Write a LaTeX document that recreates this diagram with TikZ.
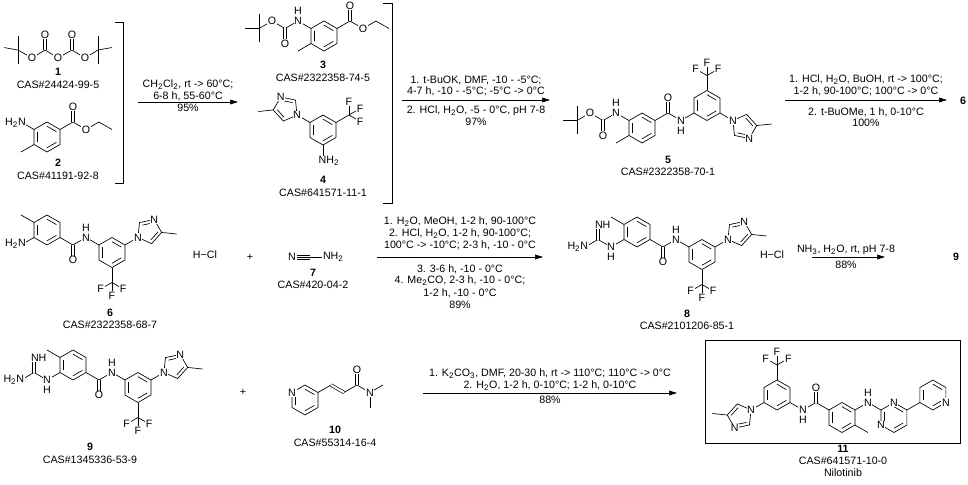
\documentclass[tikz,border=0pt]{standalone}
\usepackage{fontspec}
\setmainfont{Liberation Sans}
\usetikzlibrary{calc, arrows.meta}

\tikzset{
  every node/.style={font=\fontsize{8}{9}\selectfont, inner sep=0.6pt},
  atom/.style={fill=white, inner sep=0.5pt},
  num/.style={font=\fontsize{8}{9}\selectfont\bfseries},
  rxn/.style={-{Triangle[length=6pt,width=3.6pt]}},
  dbond/.style={double, double distance=1.5pt},
}

% benzene-type ring: name, centre
\newcommand\hexring[2]{%
  \coordinate (#1) at (#2);
  \foreach \k/\a in {0/90,1/30,2/-30,3/-90,4/-150,5/150}
    \coordinate (#1-\k) at ($(#1)+(\a:15)$);
  \draw (#1-0) -- (#1-1) -- (#1-2) -- (#1-3) -- (#1-4) -- (#1-5) -- cycle;
  \foreach \i/\j in {0/1,2/3,4/5}
    \draw ($(#1)!0.72!(#1-\i)$) -- ($(#1)!0.72!(#1-\j)$);}
% 4-methylimidazol-1-yl: name, N1, direction, sense
\newcommand\imid[4]{%
  \coordinate (#1) at ($(#2)+(#3:12.76)$);
  \foreach \k in {0,...,4}
    \coordinate (#1-\k) at ($(#1)+({#3+180+#4*72*\k}:12.76)$);
  \draw (#1-0) -- (#1-1) -- (#1-2) -- (#1-3) -- (#1-4) -- cycle;
  \foreach \i/\j in {1/2,3/4}
    \draw ($(#1)!0.7!(#1-\i)$) -- ($(#1)!0.7!(#1-\j)$);
  \draw (#1-3) -- ($(#1-3)+({#3+180+#4*216}:15)$);
  \node[atom] at (#1-0) {N};
  \node[atom] at (#1-2) {N};}
% CF3: carbon, direction
\newcommand\cfthree[2]{%
  \foreach \d in {-60,0,60}{
    \draw (#1) -- ($(#1)+({#2+\d}:13)$);
    \node[atom] at ($(#1)+({#2+\d}:13)$) {F};}}
\newcommand\tbu[2]{\foreach \a in {#2} \draw (#1) -- ++(\a:14);}
% Boc-NH on vertex 5 of ring #1
\newcommand\bocnh[1]{%
  \coordinate (#1N) at ($(#1-5)+(150:15)$);
  \coordinate (#1B) at ($(#1N)+(-150:15)$);
  \coordinate (#1BO) at ($(#1B)+(-90:15)$);
  \coordinate (#1BE) at ($(#1B)+(150:15)$);
  \coordinate (#1Q) at ($(#1BE)+(-150:15)$);
  \draw (#1-5) -- (#1N) -- (#1B) -- (#1BE) -- (#1Q);
  \draw[dbond] (#1B) -- (#1BO);
  \tbu{#1Q}{90,-90,180}
  \node[atom] at (#1N) {N};
  \node[atom] at ($(#1N)+(0,10)$) {H};
  \node[atom] at (#1BO) {O};
  \node[atom] at (#1BE) {O};}
% ethyl ester on vertex 1 of ring #1
\newcommand\ester[1]{%
  \coordinate (#1E) at ($(#1-1)+(30:15)$);
  \coordinate (#1EO) at ($(#1E)+(90:15)$);
  \coordinate (#1EX) at ($(#1E)+(-30:15)$);
  \draw (#1-1) -- (#1E) -- (#1EX) -- ++(30:15) -- ++(-30:15);
  \draw[dbond] (#1E) -- (#1EO);
  \node[atom] at (#1EO) {O};
  \node[atom] at (#1EX) {O};}
% benzamide core of 6, 8 and 9
\newcommand\core[2]{%
  \hexring{#1}{#2}
  \coordinate (#1C) at ($(#1-2)+(-30:15)$);
  \coordinate (#1O) at ($(#1C)+(-90:15)$);
  \coordinate (#1N) at ($(#1C)+(30:15)$);
  \hexring{#1q}{$(#1N)+(-30:30)$}
  \draw (#1-2) -- (#1C) -- (#1N) -- (#1q-5);
  \draw[dbond] (#1C) -- (#1O);
  \draw (#1-5) -- ++(150:15);
  \coordinate (#1F) at ($(#1q-3)+(-90:15)$);
  \draw (#1q-3) -- (#1F);
  \cfthree{#1F}{-90}
  \coordinate (#1I) at ($(#1q-1)+(30:15)$);
  \draw (#1q-1) -- (#1I);
  \imid{#1m}{#1I}{30}{(-1)}
  \node[atom] at (#1O) {O};
  \node[atom] at (#1N) {N};
  \node[atom] at ($(#1N)+(0,10)$) {H};}
% guanidine on vertex 4 of ring #1
\newcommand\guan[1]{%
  \coordinate (#1g1) at ($(#1-4)+(-150:15)$);
  \coordinate (#1g2) at ($(#1g1)+(150:15)$);
  \coordinate (#1g3) at ($(#1g2)+(90:15)$);
  \coordinate (#1g4) at ($(#1g2)+(-150:15)$);
  \draw (#1-4) -- (#1g1) -- (#1g2) -- (#1g4);
  \draw[dbond] (#1g2) -- (#1g3);
  \node[atom] at (#1g1) {N};
  \node[atom] at ($(#1g1)+(0,-10)$) {H};
  \node[atom, anchor=west, xshift=-3pt] at (#1g3) {NH};
  \node[atom, anchor=east, xshift=3pt] at (#1g4) {H\textsubscript{2}N};}

\begin{document}
\begin{tikzpicture}[x=0.75pt, y=0.75pt, line width=0.5pt]
\useasboundingbox (0,0) rectangle (968,-485);

% 1
\coordinate (q1) at (18,-50); \coordinate (o1) at (32,-58);
\coordinate (k1) at (45,-50); \coordinate (o2) at (58,-58);
\coordinate (k2) at (72,-50); \coordinate (o3) at (85,-58);
\coordinate (q2) at (98,-50);
\draw (q1) -- (o1) -- (k1) -- (o2) -- (k2) -- (o3) -- (q2);
\draw[dbond] (k1) -- ++(90:15) coordinate (o4);
\draw[dbond] (k2) -- ++(90:15) coordinate (o5);
\tbu{q1}{90,-90,170}
\tbu{q2}{90,-90,10}
\foreach \o in {o1,o2,o3,o4,o5} \node[atom] at (\o) {O};
\node[num] (n1) at (58,-72) {1};
\node (cas1) at (58,-85) {CAS\#24424-99-5};

% 2
\hexring{r2}{47,-137}
\ester{r2}
\draw (r2-4) -- ++(-150:15);
\draw (r2-5) -- ++(150:13) coordinate (r2A);
\node[atom, anchor=east, xshift=3pt] at (r2A) {H\textsubscript{2}N};
\node[num] (n2) at (58,-163) {2};
\node (cas2) at (58,-176) {CAS\#41191-92-8};

\draw (115,-22) -- (123,-22) -- (123,-183) -- (115,-183);

% step 1
\coordinate (s1a) at (138,-102); \coordinate (s1b) at (238,-102);
\draw[rxn] (s1a) -- (s1b);
\node (t11) at (188,-85) {CH\textsubscript{2}Cl\textsubscript{2}, rt -> 60°C;};
\node (t12) at (188,-96) {6-8 h, 55-60°C};
\node (t13) at (188,-108) {95\%};

% 3
\hexring{r3}{324,-36}
\bocnh{r3}
\ester{r3}
\draw (r3-4) -- ++(-150:15);
\node[num] (n3) at (323,-65) {3};
\node (cas3) at (323,-78) {CAS\#2322358-74-5};

% 4
\hexring{r4}{323,-130}
\draw (r4-3) -- ++(-90:13) coordinate (r4A);
\node[atom, anchor=north west, xshift=-4pt, yshift=2pt] at (r4A) {NH\textsubscript{2}};
\coordinate (r4F) at ($(r4-1)+(30:15)$);
\draw (r4-1) -- (r4F);
\cfthree{r4F}{30}
\coordinate (r4I) at ($(r4-5)+(150:15)$);
\draw (r4-5) -- (r4I);
\imid{r4m}{r4I}{150}{1}
\node[num] (n4) at (323,-180) {4};
\node (cas4) at (323,-193) {CAS\#641571-11-1};

\draw (383,-3) -- (392,-3) -- (392,-203) -- (383,-203);

% step 2
\coordinate (s2a) at (402,-100); \coordinate (s2b) at (550,-100);
\draw[rxn] (s2a) -- (s2b);
\node (t21) at (476,-80) {1. t-BuOK, DMF, -10 - -5°C;};
\node (t22) at (476,-91) {4-7 h, -10 - -5°C; -5°C -> 0°C};
\node (t23) at (476,-111) {2. HCl, H\textsubscript{2}O, -5 - 0°C, pH 7-8};
\node (t24) at (476,-122) {97\%};

% 5
\hexring{r5}{642,-128}
\bocnh{r5}
\draw (r5-4) -- ++(-150:15);
\coordinate (r5C) at ($(r5-1)+(30:15)$);
\coordinate (r5O) at ($(r5C)+(90:15)$);
\coordinate (r5N) at ($(r5C)+(-30:15)$);
\hexring{r5q}{$(r5N)+(30:30)$}
\draw (r5-1) -- (r5C) -- (r5N) -- (r5q-4);
\draw[dbond] (r5C) -- (r5O);
\coordinate (r5F) at ($(r5q-0)+(90:15)$);
\draw (r5q-0) -- (r5F);
\cfthree{r5F}{90}
\coordinate (r5I) at ($(r5q-2)+(-30:15)$);
\draw (r5q-2) -- (r5I);
\imid{r5m}{r5I}{-30}{1}
\node[atom] at (r5O) {O};
\node[atom] at (r5N) {N};
\node[atom] at ($(r5N)+(0,-10)$) {H};
\node[num] (n5) at (668,-160) {5};
\node (cas5) at (668,-172) {CAS\#2322358-70-1};

% step 3
\coordinate (s3a) at (785,-100); \coordinate (s3b) at (947,-100);
\draw[rxn] (s3a) -- (s3b);
\node (t31) at (866,-80) {1. HCl, H\textsubscript{2}O, BuOH, rt -> 100°C;};
\node (t32) at (866,-91) {1-2 h, 90-100°C; 100°C -> 0°C};
\node (t33) at (866,-112) {2. t-BuOMe, 1 h, 0-10°C};
\node (t34) at (866,-123) {100\%};
\node[num] (n6a) at (963,-101) {6};

% 6
\core{r6}{47,-230}
\draw (r6-4) -- ++(-150:13) coordinate (r6A);
\node[atom, anchor=east, xshift=3pt] at (r6A) {H\textsubscript{2}N};
\node[num] (n6) at (110,-313) {6};
\node (cas6) at (110,-325) {CAS\#2322358-68-7};
\node (hcl6) at (205,-255) {H−Cl};
\node (plus1) at (250,-257) {+};

% 7
\node[atom] (n7N) at (292,-257) {N};
\node[atom, anchor=west] (n7A) at (322,-257) {NH\textsubscript{2}};
\draw ([yshift=-1.6pt]n7N.east) -- ([yshift=-1.6pt]310,-257);
\draw (n7N.east) -- (n7A.west);
\draw ([yshift=1.6pt]n7N.east) -- ([yshift=1.6pt]310,-257);
\node[num] (n7) at (313,-273) {7};
\node (cas7) at (313,-285) {CAS\#420-04-2};

% step 4
\coordinate (s4a) at (377,-257); \coordinate (s4b) at (543,-257);
\draw[rxn] (s4a) -- (s4b);
\node (t41) at (460,-222) {1. H\textsubscript{2}O, MeOH, 1-2 h, 90-100°C};
\node (t42) at (460,-234) {2. HCl, H\textsubscript{2}O, 1-2 h, 90-100°C;};
\node (t43) at (460,-245) {100°C -> -10°C; 2-3 h, -10 - 0°C};
\node (t44) at (460,-269) {3. 3-6 h, -10 - 0°C};
\node (t45) at (460,-281) {4. Me\textsubscript{2}CO, 2-3 h, -10 - 0°C;};
\node (t46) at (460,-293) {1-2 h, -10 - 0°C};
\node (t47) at (460,-305) {89\%};

% 8
\core{r8}{637,-232}
\guan{r8}
\node[num] (n8) at (687,-314) {8};
\node (cas8) at (687,-326) {CAS\#2101206-85-1};
\node (hcl8) at (772,-255) {H−Cl};

% step 5
\coordinate (s5a) at (812,-257); \coordinate (s5b) at (885,-257);
\draw[rxn] (s5a) -- (s5b);
\node (t51) at (846,-250) {NH\textsubscript{3}, H\textsubscript{2}O, rt, pH 7-8};
\node (t52) at (846,-265) {88\%};
\node[num] (n9a) at (956,-257) {9};

% 9
\core{r9}{73,-365}
\guan{r9}
\node[num] (n9) at (90,-447) {9};
\node (cas9) at (90,-460) {CAS\#1345336-53-9};
\node (plus2) at (243,-392) {+};

% 10
\hexring{r10}{305,-400}
\node[atom] at (r10-5) {N};
\coordinate (v1) at ($(r10-1)+(30:15)$);
\coordinate (v2) at ($(v1)+(-30:15)$);
\coordinate (v3) at ($(v2)+(30:15)$);
\coordinate (v4) at ($(v3)+(90:15)$);
\coordinate (v5) at ($(v3)+(-30:15)$);
\draw (r10-1) -- (v1); \draw[dbond] (v1) -- (v2);
\draw (v2) -- (v3) -- (v5); \draw[dbond] (v3) -- (v4);
\draw (v5) -- ++(30:15); \draw (v5) -- ++(-90:15);
\node[atom] at (v4) {O};
\node[atom] at (v5) {N};
\node[num] (n10) at (335,-430) {10};
\node (cas10) at (335,-443) {CAS\#55314-16-4};

% step 6
\coordinate (s6a) at (423,-393); \coordinate (s6b) at (677,-393);
\draw[rxn] (s6a) -- (s6b);
\node (t61) at (550,-374) {1. K\textsubscript{2}CO\textsubscript{3}, DMF, 20-30 h, rt -> 110°C; 110°C -> 0°C};
\node (t62) at (550,-386) {2. H\textsubscript{2}O, 1-2 h, 0-10°C; 1-2 h, 0-10°C};
\node (t63) at (550,-400) {88\%};

% 11
\draw (705,-340) rectangle (960,-443);
\hexring{r11}{777,-395}
\coordinate (r11F) at ($(r11-0)+(90:15)$);
\draw (r11-0) -- (r11F);
\cfthree{r11F}{90}
\coordinate (r11I) at ($(r11-4)+(-150:15)$);
\draw (r11-4) -- (r11I);
\imid{r11m}{r11I}{-150}{(-1)}
\coordinate (r11N) at ($(r11-2)+(-30:15)$);
\coordinate (r11C) at ($(r11N)+(30:15)$);
\coordinate (r11O) at ($(r11C)+(90:15)$);
\hexring{r11b}{$(r11C)+(-30:30)$}
\draw (r11-2) -- (r11N) -- (r11C) -- (r11b-5);
\draw[dbond] (r11C) -- (r11O);
\draw (r11b-2) -- ++(-30:15);
\coordinate (r11K) at ($(r11b-1)+(30:15)$);
\hexring{r11p}{$(r11K)+(-30:30)$}
\draw (r11b-1) -- (r11K) -- (r11p-5);
\hexring{r11y}{$(r11p-1)+(30:30)$}
\draw (r11p-1) -- (r11y-4);
\node[atom] at (r11O) {O};
\node[atom] at (r11N) {N};
\node[atom] at ($(r11N)+(0,-10)$) {H};
\node[atom] at (r11K) {N};
\node[atom] at ($(r11K)+(0,10)$) {H};
\node[atom] at (r11p-0) {N};
\node[atom] at (r11p-4) {N};
\node[atom] at (r11y-2) {N};
\node[num] (n11) at (843,-449) {11};
\node (cas11) at (843,-461) {CAS\#641571-10-0};
\node (name11) at (843,-473) {Nilotinib};
\end{tikzpicture}
\end{document}
